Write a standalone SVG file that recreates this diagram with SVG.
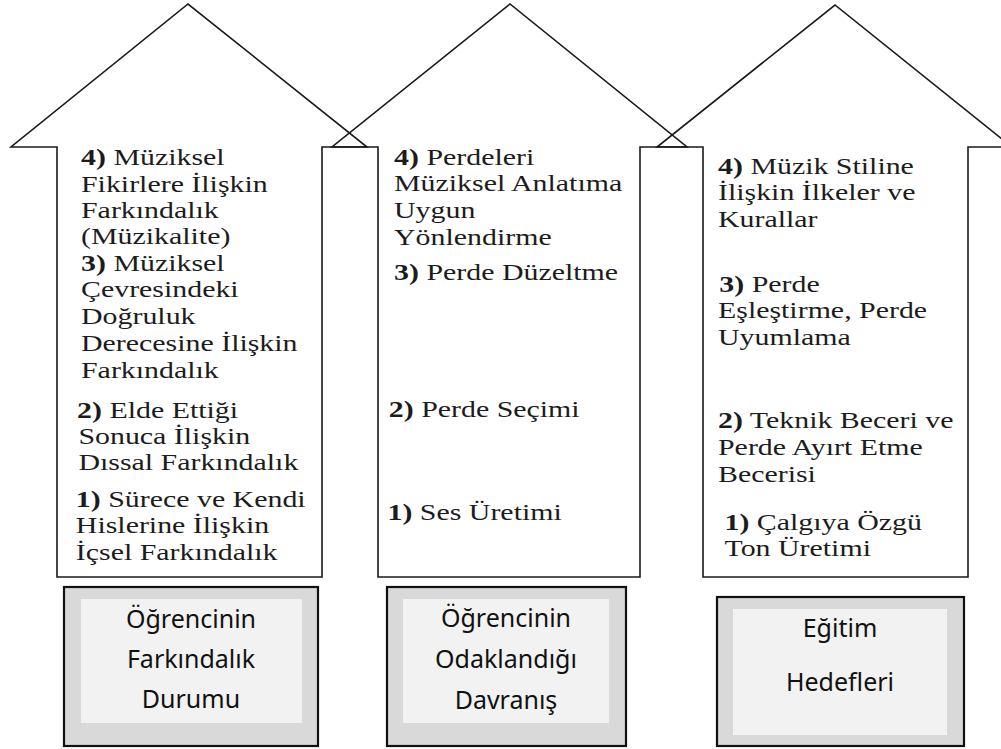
<svg xmlns="http://www.w3.org/2000/svg" width="1001" height="749" viewBox="0 0 1001 749">
<style>
.arrow{fill:none;stroke:#1a1a1a;stroke-width:1.6;stroke-linejoin:miter}
.t{font-family:"Liberation Serif","Times New Roman",serif;font-size:23px;fill:#1c1c1c}
.b{font-weight:bold}
.outer{fill:#d9d9d9;stroke:#111;stroke-width:2.2}
.inner{fill:#f2f2f2}
.bt{font-family:"Noto Sans","Open Sans",sans-serif;font-size:25px;fill:#111;text-anchor:middle}
</style>
<rect width="1001" height="749" fill="#fff"/>
<g id="connectors"></g>
<g id="arrow1">
<path class="arrow" d="M57,577 V147 H11 L188,4 L367,147 H322 V577 Z"/>
<g transform="translate(81,0) scale(1.3,1)">
<text class="t" x="0" y="165"><tspan class="b">4)</tspan> Müziksel</text>
<text class="t" x="0" y="192">Fikirlere İlişkin</text>
<text class="t" x="0" y="218">Farkındalık</text>
<text class="t" x="0" y="244">(Müzikalite)</text>
<text class="t" x="0" y="271"><tspan class="b">3)</tspan> Müziksel</text>
<text class="t" x="0" y="297">Çevresindeki</text>
<text class="t" x="0" y="324">Doğruluk</text>
<text class="t" x="0" y="351">Derecesine İlişkin</text>
<text class="t" x="0" y="378">Farkındalık</text>
<text class="t" x="-3" y="418"><tspan class="b">2)</tspan> Elde Ettiği</text>
<text class="t" x="-2" y="444">Sonuca İlişkin</text>
<text class="t" x="-2" y="470">Dıssal Farkındalık</text>
<text class="t" x="-4" y="507"><tspan class="b">1)</tspan> Sürece ve Kendi</text>
<text class="t" x="-4" y="533">Hislerine İlişkin</text>
<text class="t" x="-4" y="560">İçsel Farkındalık</text>
</g>
</g>
<g id="arrow2">
<path class="arrow" d="M378,577 V147 H332 L510,4 L687,147 H640 V577 Z"/>
<g transform="translate(394,0) scale(1.3,1)">
<text class="t" x="0" y="165"><tspan class="b">4)</tspan> Perdeleri</text>
<text class="t" x="0" y="191">Müziksel Anlatıma</text>
<text class="t" x="0" y="218">Uygun</text>
<text class="t" x="0" y="245">Yönlendirme</text>
<text class="t" x="0" y="280"><tspan class="b">3)</tspan> Perde Düzeltme</text>
<text class="t" x="-4" y="417"><tspan class="b">2)</tspan> Perde Seçimi</text>
<text class="t" x="-5" y="520"><tspan class="b">1)</tspan> Ses Üretimi</text>
</g>
</g>
<g id="arrow3">
<path class="arrow" d="M703,577 V147 H657 L835,5 L1012,147 H968 V577 Z"/>
<g transform="translate(718,0) scale(1.3,1)">
<text class="t" x="0" y="174"><tspan class="b">4)</tspan> Müzik Stiline</text>
<text class="t" x="0" y="200">İlişkin İlkeler ve</text>
<text class="t" x="0" y="227">Kurallar</text>
<text class="t" x="1" y="292"><tspan class="b">3)</tspan> Perde</text>
<text class="t" x="0" y="318">Eşleştirme, Perde</text>
<text class="t" x="0" y="345">Uyumlama</text>
<text class="t" x="0" y="428"><tspan class="b">2)</tspan> Teknik Beceri ve</text>
<text class="t" x="0" y="455">Perde Ayırt Etme</text>
<text class="t" x="0" y="482">Becerisi</text>
<text class="t" x="5" y="530"><tspan class="b">1)</tspan> Çalgıya Özgü</text>
<text class="t" x="5" y="556">Ton Üretimi</text>
</g>
</g>
<g id="box1">
<rect class="outer" x="64" y="587" width="254" height="159"/>
<rect class="inner" x="81" y="599" width="221" height="124"/>
<text class="bt" x="191" y="628">Öğrencinin</text>
<text class="bt" x="191" y="668">Farkındalık</text>
<text class="bt" x="191" y="708">Durumu</text>
</g>
<g id="box2">
<rect class="outer" x="387" y="587" width="239" height="159"/>
<rect class="inner" x="403" y="599" width="206" height="124"/>
<text class="bt" x="506" y="627">Öğrencinin</text>
<text class="bt" x="506" y="668">Odaklandığı</text>
<text class="bt" x="506" y="709">Davranış</text>
</g>
<g id="box3">
<rect class="outer" x="717" y="597" width="247" height="149"/>
<rect class="inner" x="733" y="609" width="214" height="126"/>
<text class="bt" x="840" y="637">Eğitim</text>
<text class="bt" x="840" y="691">Hedefleri</text>
</g>
</svg>
